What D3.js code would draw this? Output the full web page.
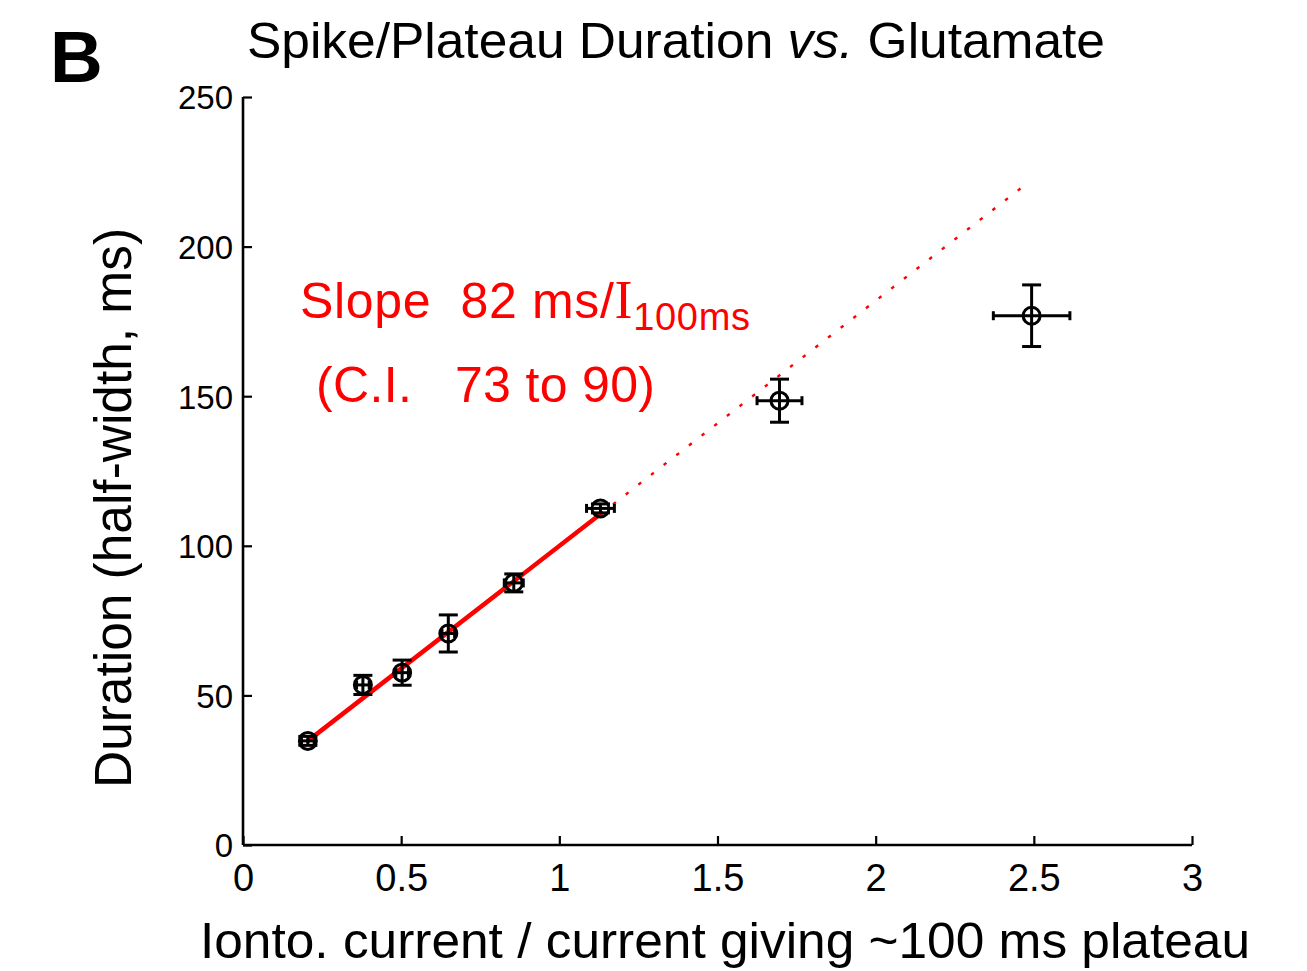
<!DOCTYPE html>
<html><head><meta charset="utf-8">
<script src="https://cdn.jsdelivr.net/npm/d3@7"></script>
<style>body{margin:0;background:#fff}svg{display:block}text{font-family:"Liberation Sans",Arial,sans-serif;white-space:pre}</style>
</head><body><svg id="c" width="1307" height="971"></svg>
<script>
// data
const xVals   = [0.205, 0.379, 0.503, 0.649, 0.856, 1.130, 1.696, 2.493];
const yVals   = [34.8, 53.5, 57.6, 70.7, 87.6, 112.5, 148.5, 176.9];
const yErr    = [1.5, 3.2, 4.2, 6.2, 3.0, 1.5, 7.2, 10.3];
const xErr    = [0.02, 0.02, 0.02, 0.02, 0.03, 0.044, 0.071, 0.121];
const fitSolidX = [0.205, 1.130];
const fitSolidY = [34.8, 110.6];
const fitDotX = [1.130, 2.472];
const fitDotY = [110.6, 220.6];
const xTicks = [0, 0.5, 1, 1.5, 2, 2.5, 3];
const xTickLabels = ["0", "0.5", "1", "1.5", "2", "2.5", "3"];
const yTicks = [0, 50, 100, 150, 200, 250];
const yTickLabels = ["0", "50", "100", "150", "200", "250"];

const svg = d3.select("#c");
const x = d3.scaleLinear().domain([0, 3]).range([243, 1192]);
const y = d3.scaleLinear().domain([0, 250]).range([845, 97]);

// axes
const xAxis = d3.axisBottom(x).tickValues(xTicks).tickFormat((d,i)=>xTickLabels[i]).tickSizeInner(-9).tickSizeOuter(0).tickPadding(19);
const gx = svg.append("g").attr("transform", "translate(0,845)").call(xAxis);
gx.select(".domain").attr("stroke", "#000").attr("stroke-width", 2.6).attr("d", `M${x(0)},0H${x(3)}`);
gx.selectAll(".tick line").attr("stroke", "#000").attr("stroke-width", 2.2);
gx.selectAll(".tick text").attr("font-size", 38).attr("fill", "#000").attr("font-family", '"Liberation Sans",Arial,sans-serif').attr("dy", "0.72em");

const yAxis = d3.axisLeft(y).tickValues(yTicks).tickFormat((d,i)=>yTickLabels[i]).tickSizeInner(-9).tickSizeOuter(0).tickPadding(10);
const gy = svg.append("g").attr("transform", "translate(243,0)").call(yAxis);
gy.select(".domain").attr("stroke", "#000").attr("stroke-width", 2.6).attr("d", `M0,${y(0)}V${y(250)}`);
gy.selectAll(".tick line").attr("stroke", "#000").attr("stroke-width", 2.2);
gy.selectAll(".tick text").attr("font-size", 33).attr("fill", "#000").attr("font-family", '"Liberation Sans",Arial,sans-serif').attr("dy", "0.36em");

// fit lines
const line = d3.line().x(d=>x(d[0])).y(d=>y(d[1]));
svg.append("path").datum(fitDotX.map((v,i)=>[v, fitDotY[i]]))
  .attr("d", line).attr("fill", "none").attr("stroke", "#ff0000").attr("stroke-width", 2.4).attr("stroke-dasharray", "3.5,12.5");
svg.append("path").datum(fitSolidX.map((v,i)=>[v, fitSolidY[i]]))
  .attr("d", line).attr("fill", "none").attr("stroke", "#ff0000").attr("stroke-width", 4.5).attr("stroke-linecap", "round");

// points with error bars
const pts = xVals.map((v,i)=>({x:v, y:yVals[i], ex:xErr[i], ey:yErr[i]}));
const g = svg.append("g").attr("stroke", "#000").attr("fill", "none").attr("stroke-width", 3);
pts.forEach(p=>{
  const cx = x(p.x), cy = y(p.y);
  const x0 = x(p.x - p.ex), x1 = x(p.x + p.ex);
  const y0 = y(p.y - p.ey), y1 = y(p.y + p.ey);
  g.append("line").attr("x1", cx).attr("x2", cx).attr("y1", y0).attr("y2", y1);
  g.append("line").attr("x1", cx-9.5).attr("x2", cx+9.5).attr("y1", y0).attr("y2", y0);
  g.append("line").attr("x1", cx-9.5).attr("x2", cx+9.5).attr("y1", y1).attr("y2", y1);
  g.append("line").attr("x1", x0).attr("x2", x1).attr("y1", cy).attr("y2", cy);
  g.append("line").attr("x1", x0).attr("x2", x0).attr("y1", cy-4.5).attr("y2", cy+4.5);
  g.append("line").attr("x1", x1).attr("x2", x1).attr("y1", cy-4.5).attr("y2", cy+4.5);
  g.append("circle").attr("cx", cx).attr("cy", cy).attr("r", 8.5);
});

// texts
svg.append("text").attr("x", 50).attr("y", 82).attr("font-size", 73).attr("font-weight", "bold").text("B");

const t = svg.append("text").attr("x", 247).attr("y", 58).attr("font-size", 50).attr("textLength", 858).attr("lengthAdjust", "spacingAndGlyphs");
t.append("tspan").text("Spike/Plateau Duration ");
t.append("tspan").attr("font-style", "italic").text("vs.");
t.append("tspan").text(" Glutamate");

svg.append("text").attr("transform", "translate(131,508) rotate(-90)").attr("text-anchor", "middle")
  .attr("font-size", 51).attr("textLength", 560).attr("lengthAdjust", "spacingAndGlyphs").text("Duration (half-width, ms)");

svg.append("text").attr("x", 200).attr("y", 958).attr("font-size", 50).attr("textLength", 1050).attr("lengthAdjust", "spacingAndGlyphs")
  .text("Ionto. current / current giving ~100 ms plateau");

const s = svg.append("text").attr("x", 300).attr("y", 318).attr("font-size", 50).attr("fill", "#ff0000")
  .attr("textLength", 450).attr("lengthAdjust", "spacing");
s.append("tspan").text("Slope  82 ms/");
s.append("tspan").attr("font-family", '"Liberation Serif","Times New Roman",serif').attr("font-size", 54).text("I");
s.append("tspan").attr("font-size", 38).attr("dy", 12).text("100ms");

svg.append("text").attr("x", 316).attr("y", 402).attr("font-size", 50).attr("fill", "#ff0000")
  .attr("textLength", 339).attr("lengthAdjust", "spacing").text("(C.I.   73 to 90)");
</script></body></html>
